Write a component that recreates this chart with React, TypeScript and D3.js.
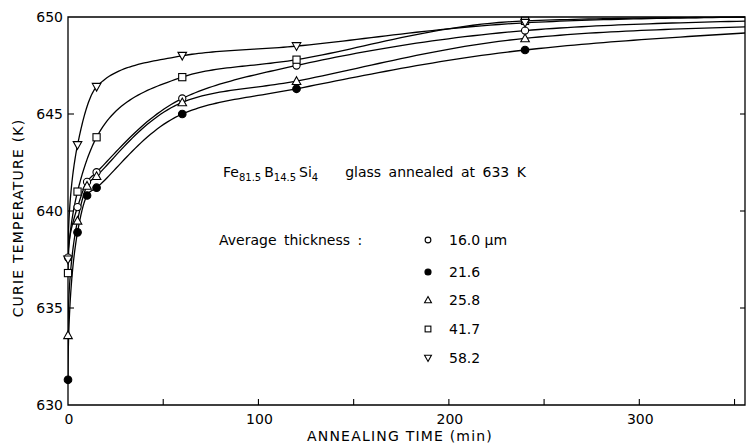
import React from "react";
import * as d3 from "d3";

const times = [0, 5, 10, 15, 60, 120, 240, 360];
const timesFew = [0, 5, 15, 60, 120, 240, 360];

const t16_0 = [637.6, 640.2, 641.5, 642.0, 645.8, 647.5, 649.3, 649.8];
const t21_6 = [631.3, 638.9, 640.8, 641.2, 645.0, 646.3, 648.3, 649.2];
const t25_8 = [633.6, 639.5, 641.3, 641.8, 645.6, 646.7, 648.9, 649.5];
const t41_7 = [636.8, 641.0, 643.8, 646.9, 647.8, 649.8, 650.0];
const t58_2 = [637.5, 643.4, 646.4, 648.0, 648.5, 649.7, 650.0];

const legendLabels = ["16.0 \u03bcm", "21.6", "25.8", "41.7", "58.2"];
const xTicks = [0, 100, 200, 300];
const xMinorTicks = [50, 100, 150, 200, 250, 300, 350];
const yTicks = [630, 635, 640, 645, 650];

type Shape = "circle" | "disc" | "tri" | "square" | "tridown";

const series: { name: string; t: number[]; v: number[]; shape: Shape }[] = [
  { name: legendLabels[0], t: times, v: t16_0, shape: "circle" },
  { name: legendLabels[1], t: times, v: t21_6, shape: "disc" },
  { name: legendLabels[2], t: times, v: t25_8, shape: "tri" },
  { name: legendLabels[3], t: timesFew, v: t41_7, shape: "square" },
  { name: legendLabels[4], t: timesFew, v: t58_2, shape: "tridown" },
];

// Smooth monotone interpolation done in sqrt(time) space so the drawn
// curve passes through every read point with the hand-drawn concave look.
function smoothThrough(t: number[], v: number[]): [number, number][] {
  const u = t.map((d) => Math.sqrt(d));
  const n = u.length;
  const h: number[] = [];
  const s: number[] = [];
  for (let i = 0; i < n - 1; i++) {
    h.push(u[i + 1] - u[i]);
    s.push((v[i + 1] - v[i]) / (u[i + 1] - u[i]));
  }
  const m: number[] = new Array(n).fill(0);
  for (let i = 1; i < n - 1; i++) {
    const s0 = s[i - 1], s1 = s[i];
    const p = (s0 * h[i] + s1 * h[i - 1]) / (h[i - 1] + h[i]);
    m[i] = (Math.sign(s0) + Math.sign(s1)) * Math.min(Math.abs(s0), Math.abs(s1), 0.5 * Math.abs(p));
  }
  m[0] = h.length ? (3 * s[0] - m[1]) / 2 : 0;
  m[n - 1] = (3 * s[n - 2] - m[n - 2]) / 2;
  const out: [number, number][] = [];
  for (let i = 0; i < n - 1; i++) {
    const steps = 30;
    for (let k = 0; k <= steps; k++) {
      if (i > 0 && k === 0) continue;
      const a = k / steps;
      const a2 = a * a, a3 = a2 * a;
      const h00 = 2 * a3 - 3 * a2 + 1;
      const h10 = a3 - 2 * a2 + a;
      const h01 = -2 * a3 + 3 * a2;
      const h11 = a3 - a2;
      const uu = u[i] + a * h[i];
      const vv = h00 * v[i] + h10 * h[i] * m[i] + h01 * v[i + 1] + h11 * h[i] * m[i + 1];
      out.push([uu * uu, vv]);
    }
  }
  return out;
}

function Marker({ shape, x, y, s = 1 }: { shape: Shape; x: number; y: number; s?: number }) {
  const common = { stroke: "#000", strokeWidth: 1.1 };
  if (shape === "circle") return <circle cx={x} cy={y} r={3.6 * s} fill="#fff" {...common} />;
  if (shape === "disc") return <circle cx={x} cy={y} r={3.8 * s} fill="#000" {...common} />;
  if (shape === "square") {
    const h = 3.6 * s;
    return <rect x={x - h} y={y - h} width={2 * h} height={2 * h} fill="#fff" {...common} />;
  }
  if (shape === "tri") {
    const h = 4.3 * s;
    return <path d={`M${x},${y - h}L${x + h},${y + h * 0.8}L${x - h},${y + h * 0.8}Z`} fill="#fff" {...common} />;
  }
  const h = 4.3 * s;
  return <path d={`M${x},${y + h}L${x + h},${y - h * 0.8}L${x - h},${y - h * 0.8}Z`} fill="#fff" {...common} />;
}

export default function App() {
  const W = 747;
  const H = 446;
  const left = 68, right = 745, top = 17, bottom = 405;
  const x = d3.scaleLinear().domain([0, 355.5]).range([left, right]);
  const y = d3.scaleLinear().domain([630, 650]).range([bottom, top]);
  const font = "'DejaVu Sans', sans-serif";

  const line = d3
    .line<[number, number]>()
    .x((d) => x(d[0]))
    .y((d) => y(d[1]));

  const legendY = [240, 272, 300, 329, 358];

  return (
    <svg
      width={W}
      height={H}
      style={{ position: "absolute", left: 0, top: 0, background: "#fff" }}
      fontFamily={font}
    >
      <defs>
        <clipPath id="plot">
          <rect x={left} y={top - 2} width={right - left} height={bottom - top + 2} />
        </clipPath>
      </defs>
      <rect x={0} y={0} width={W} height={H} fill="#fff" />
      {/* frame */}
      <path
        d={`M${left},${top}L${right},${top}L${right},${bottom}L${left},${bottom}Z`}
        fill="none"
        stroke="#000"
        strokeWidth={1.3}
      />
      {/* x ticks */}
      {xMinorTicks.map((t) => (
        <line key={"xt" + t} x1={x(t)} x2={x(t)} y1={bottom} y2={bottom - 6} stroke="#000" strokeWidth={1.1} />
      ))}
      {xTicks.map((t) => (
        <text key={"xl" + t} x={x(t) + 1} y={bottom + 19} fontSize={14} textAnchor="middle">
          {t}
        </text>
      ))}
      {/* y ticks */}
      {yTicks.slice(1, 4).map((v) => (
        <g key={"yt" + v}>
          <line x1={left} x2={left + 6} y1={y(v)} y2={y(v)} stroke="#000" strokeWidth={1.1} />
          <line x1={right} x2={right - 5} y1={y(v)} y2={y(v)} stroke="#000" strokeWidth={1.1} />
        </g>
      ))}
      {yTicks.map((v) => (
        <text key={"yl" + v} x={left - 5} y={y(v) + 5} fontSize={14} textAnchor="end">
          {v}
        </text>
      ))}
      {/* axis titles */}
      <text x={400} y={441} fontSize={14} textAnchor="middle" letterSpacing={1.2}>
        ANNEALING TIME (min)
      </text>
      <text
        transform={`translate(23,${218}) rotate(-90)`}
        fontSize={14}
        textAnchor="middle"
        letterSpacing={1.2}
      >
        CURIE TEMPERATURE (K)
      </text>
      {/* curves */}
      <g clipPath="url(#plot)">
        {series.map((s) => (
          <path key={s.name} d={line(smoothThrough(s.t, s.v)) || ""} fill="none" stroke="#000" strokeWidth={1.3} />
        ))}
      </g>
      {series.map((s) =>
        s.v.map((v, i) => <Marker key={s.name + i} shape={s.shape} x={x(s.t[i])} y={y(v)} />)
      )}
      {/* annotation */}
      <text x={223} y={177} fontSize={14}>
        <tspan>Fe</tspan>
        <tspan fontSize={10} dy={4}>81.5</tspan>
        <tspan dy={-4} dx={3}>B</tspan>
        <tspan fontSize={10} dy={4}>14.5</tspan>
        <tspan dy={-4} dx={3}>Si</tspan>
        <tspan fontSize={10} dy={4}>4</tspan>
        <tspan dy={-4} dx={27} wordSpacing={3}>glass annealed at 633 K</tspan>
      </text>
      <text x={219} y={245} fontSize={14} wordSpacing={3}>
        Average thickness :
      </text>
      {series.map((s, i) => (
        <g key={"lg" + s.name}>
          <Marker shape={s.shape} x={428} y={legendY[i]} s={0.8} />
          <text x={449} y={legendY[i] + 5} fontSize={14}>
            {s.name}
          </text>
        </g>
      ))}
    </svg>
  );
}
